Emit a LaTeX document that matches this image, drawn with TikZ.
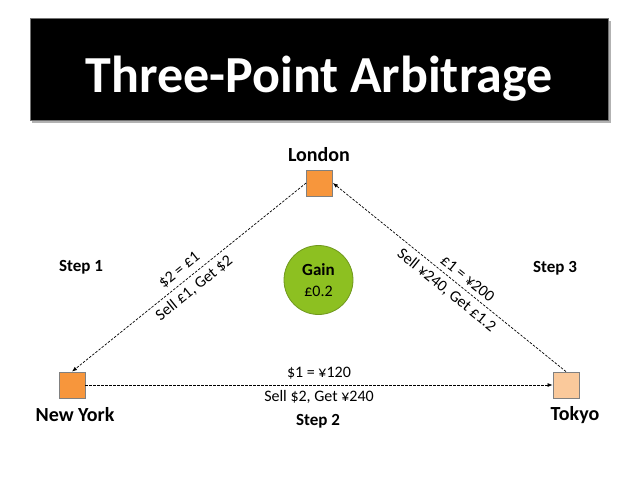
\documentclass[tikz,border=0pt]{standalone}
\usepackage{fontspec}
\setmainfont{Carlito}
\usetikzlibrary{arrows.meta}
\definecolor{cityorange}{RGB}{247,150,60}
\definecolor{citypale}{RGB}{250,201,155}
\definecolor{gaingreen}{RGB}{141,192,33}
\definecolor{gainrim}{RGB}{112,152,30}

\begin{document}
\begin{tikzpicture}[
  x=1pt, y=-1pt,
  every node/.append style={font=\fontsize{16}{18}\selectfont},
  banner/.style={fill=black, draw=black!55, line width=0.8pt},
  headline/.style={anchor=base, text=white, inner sep=0pt,
    font=\fontsize{52}{60}\selectfont\bfseries},
  citybox/.style={draw=black!50, line width=0.8pt, fill=cityorange,
    minimum size=26pt, inner sep=0pt},
  cityname/.style={font=\fontsize{20}{22}\selectfont\bfseries, inner sep=1pt},
  steplabel/.style={font=\fontsize{17}{19}\selectfont\bfseries, inner sep=1pt},
  trade/.style={draw, line width=0.7pt, dash pattern=on 2.5pt off 1.5pt,
    -{Latex[length=5pt, width=4pt]}},
  rate/.style={inner sep=5pt},
  gainspot/.style={circle, fill=gaingreen, draw=gainrim, line width=0.8pt,
    minimum size=69pt, inner sep=0pt, align=center,
    font=\fontsize{16}{21}\selectfont},
]
\useasboundingbox (0,0) rectangle (638,479);
\fill[white] (0,0) rectangle (638,479);

% ------------------------------------------------------------ the banner
\fill[black!30] (32,21) rectangle (611,123);
\path[banner] (30,18) rectangle (608,120);
\node[headline] (title) at (319,92) {Three-Point Arbitrage};

% ------------------------------------------------------------ the cities
\node[citybox] (london) at (319.5,183) {};
\node[citybox] (newyork) at (72,385) {};
\node[citybox, fill=citypale] (tokyo) at (566,385) {};

\node[cityname] (londonname) at (319,155) {London};
\node[cityname] (newyorkname) at (75,415) {New York};
\node[cityname] (tokyoname) at (575,415) {Tokyo};

% ------------------------------------------------------------ the trades
\draw[trade] (london.west) --
  node[rate, sloped, above, pos=0.51] {\$2 = £1}
  node[rate, sloped, below, pos=0.51] {Sell £1, Get \$2} (newyork.north);
\draw[trade] (newyork.east) --
  node[rate, above] {\$1 = ¥120}
  node[rate, below] {Sell \$2, Get ¥240} (tokyo.west);
\draw[trade] (tokyo.north) --
  node[rate, sloped, above, pos=0.45] {£1 = ¥200}
  node[rate, sloped, below, pos=0.48] {Sell ¥240, Get £1.2} (london.east);

\node[steplabel] (step1) at (81,267) {Step 1};
\node[steplabel] (step2) at (318,421) {Step 2};
\node[steplabel] (step3) at (555,268) {Step 3};

% ------------------------------------------------------------ the gain
\node[gainspot] (gain) at (318.5,280)
  {{\fontsize{17}{21}\selectfont\bfseries Gain}\\£0.2};

\end{tikzpicture}
\end{document}
